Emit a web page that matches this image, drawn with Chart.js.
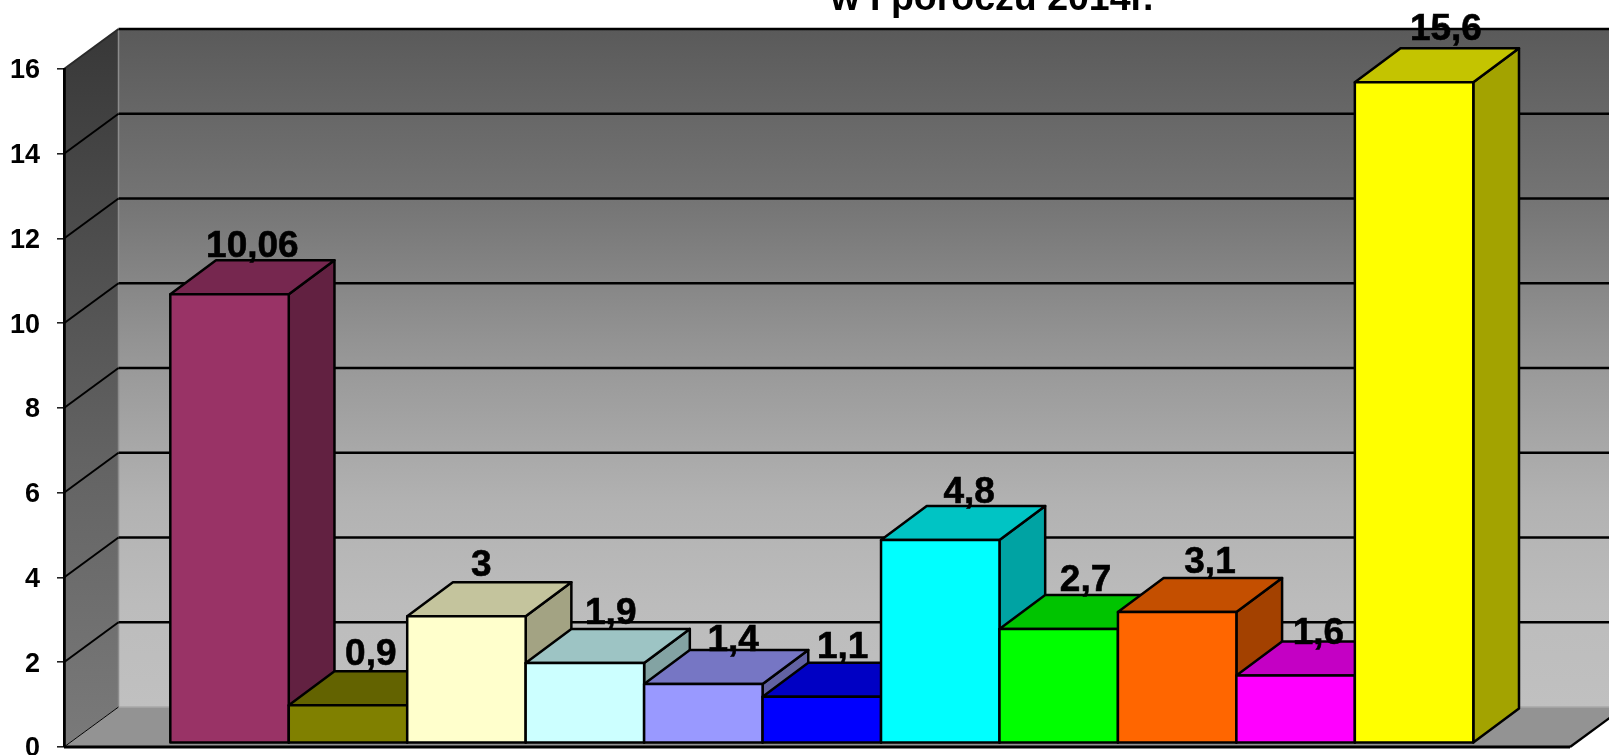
<!DOCTYPE html>
<html>
<head>
<meta charset="utf-8">
<style>
html,body{margin:0;padding:0;background:#fff;overflow:hidden;width:1609px;height:755px}
#wrap{position:absolute;left:0;top:-60px;width:1609px;height:855px}
canvas{display:block}
</style>
<script src="https://cdn.jsdelivr.net/npm/chart.js@4/dist/chart.umd.min.js"></script>
</head>
<body>
<div id="wrap"><canvas id="c" width="1609" height="855"></canvas></div>
<script>
const categories = [''];
const titleText = 'w I poroczu 2014r.';
const seriesValues = [10.6, 0.9, 3, 1.9, 1.4, 1.1, 4.8, 2.7, 3.1, 1.6, 15.6];
const valueLabels = ['10,06', '0,9', '3', '1,9', '1,4', '1,1', '4,8', '2,7', '3,1', '1,6', '15,6'];
const tickValues = [0, 2, 4, 6, 8, 10, 12, 14, 16];
const frontColors = ['#993366','#808000','#FFFFCC','#CCFFFF','#9999FF','#0000FF','#00FFFF','#00FF00','#FF6600','#FF00FF','#FFFF00'];
const labelNudgeX = [0, 0, -8, 3, 7, -2, 6, 4, 10, 0, 9];
const labelNudgeY = [2, -1, -1, 0, 6, 0, 2, 1, 0, 7, -3];

const FONT = '"Liberation Sans", Arial, sans-serif';
const WALL = {dx: 54.5, dy: 40};
const BAR = {ox: 4.8, oy: -3.6, dx: 45.7, dy: 34};

function shade(hex, f) {
  const n = parseInt(hex.slice(1), 16);
  const c = s => Math.round(((n >> s) & 255) * f);
  return `rgb(${c(16)},${c(8)},${c(0)})`;
}
function poly(ctx, pts, fill, stroke, lw) {
  ctx.beginPath();
  pts.forEach((p, i) => i ? ctx.lineTo(p[0], p[1]) : ctx.moveTo(p[0], p[1]));
  ctx.closePath();
  if (fill) { ctx.fillStyle = fill; ctx.fill(); }
  if (stroke) { ctx.strokeStyle = stroke; ctx.lineWidth = lw; ctx.stroke(); }
}
function line(ctx, x1, y1, x2, y2, col, lw) {
  ctx.beginPath(); ctx.moveTo(x1, y1); ctx.lineTo(x2, y2);
  ctx.strokeStyle = col; ctx.lineWidth = lw; ctx.stroke();
}

const scene3d = {
  id: 'scene3d',
  afterLayout(chart) {
    const t = chart.titleBlock;
    if (t) { t.left += 207; t.right += 207; t.top += 3.5; t.bottom += 3.5; }
  },
  beforeDraw(chart) {
    const {ctx, chartArea: a, scales: {y}} = chart;
    const y0 = y.getPixelForValue(0), yT = y.getPixelForValue(16);
    const bx = a.left + WALL.dx, bx2 = a.right + WALL.dx;
    ctx.save();
    let g = ctx.createLinearGradient(0, yT - WALL.dy, 0, y0 - WALL.dy);
    g.addColorStop(0, '#5a5a5a'); g.addColorStop(0.25, '#747474'); g.addColorStop(0.5, '#999999');
    g.addColorStop(0.7, '#b2b2b2'); g.addColorStop(0.85, '#bcbcbc'); g.addColorStop(1, '#c0c0c0');
    ctx.fillStyle = g;
    ctx.fillRect(bx, yT - WALL.dy, bx2 - bx, y0 - yT);
    g = ctx.createLinearGradient(0, yT - WALL.dy, 0, y0);
    g.addColorStop(0, '#383838'); g.addColorStop(0.6, '#636363'); g.addColorStop(1, '#7a7a7a');
    poly(ctx, [[a.left, y0], [a.left, yT], [bx, yT - WALL.dy], [bx, y0 - WALL.dy]], g);
    poly(ctx, [[a.left, y0], [bx, y0 - WALL.dy], [bx2, y0 - WALL.dy], [a.right, y0]], '#939393');
    line(ctx, bx, yT - WALL.dy, bx, y0 - WALL.dy, '#8c8c8c', 1.5);
    line(ctx, bx, y0 - WALL.dy, bx2, y0 - WALL.dy, '#a8a8a8', 1.5);
    tickValues.forEach(v => {
      const p = y.getPixelForValue(v);
      if (v > 0) line(ctx, bx, p - WALL.dy, bx2, p - WALL.dy, '#000', 2.4);
      line(ctx, a.left, p, bx, p - WALL.dy, v === 16 ? '#2a2a2a' : '#000', v === 0 ? 1 : 2);
    });
    line(ctx, a.right, y0, a.right + WALL.dx, y0 - WALL.dy, '#000', 2.4);
    line(ctx, a.left, y0, a.right, y0, '#000', 2.8);
    ctx.restore();
  },
  beforeDatasetDraw() { return false; },
  beforeDatasetsDraw(chart) {
    const ctx = chart.ctx;
    ctx.save();
    ctx.lineJoin = 'round';
    seriesValues.forEach((v, i) => {
      const el = chart.getDatasetMeta(i).data[0];
      const l = el.x - el.width / 2 + BAR.ox, r = el.x + el.width / 2 + BAR.ox;
      const t = el.y + BAR.oy, b = el.base + BAR.oy;
      const c = frontColors[i];
      poly(ctx, [[r, b], [r, t], [r + BAR.dx, t - BAR.dy], [r + BAR.dx, b - BAR.dy]], shade(c, 0.64), '#000', 2.5);
      poly(ctx, [[l, t], [l + BAR.dx, t - BAR.dy], [r + BAR.dx, t - BAR.dy], [r, t]], shade(c, 0.77), '#000', 2.5);
      poly(ctx, [[l, b], [l, t], [r, t], [r, b]], c, '#000', 2.5);
    });
    ctx.restore();
  },
  afterDatasetsDraw(chart) {
    const ctx = chart.ctx;
    ctx.save();
    ctx.font = 'bold 37px ' + FONT;
    ctx.fillStyle = '#000';
    ctx.strokeStyle = '#000';
    ctx.lineWidth = 0.6;
    ctx.textAlign = 'center';
    ctx.textBaseline = 'alphabetic';
    valueLabels.forEach((s, i) => {
      const el = chart.getDatasetMeta(i).data[0];
      const x = el.x + BAR.ox + BAR.dx / 2 + labelNudgeX[i];
      const yy = el.y + BAR.oy - BAR.dy - 5 + labelNudgeY[i];
      ctx.fillText(s, x, yy);
      ctx.strokeText(s, x, yy);
    });
    ctx.restore();
  }
};

new Chart(document.getElementById('c'), {
  type: 'bar',
  data: {
    labels: categories,
    datasets: seriesValues.map((v, i) => ({
      label: valueLabels[i],
      data: [v],
      backgroundColor: frontColors[i],
      borderColor: '#000',
      borderWidth: 2,
      categoryPercentage: 0.8652,
      barPercentage: 1
    }))
  },
  options: {
    responsive: false,
    animation: false,
    devicePixelRatio: 1,
    layout: {padding: {left: 0, right: 39, top: 0, bottom: 48}},
    plugins: {
      legend: {display: false},
      tooltip: {enabled: false},
      title: {
        display: true,
        text: titleText,
        color: '#000',
        font: {family: FONT, size: 37.5, weight: 'bold', lineHeight: 1.2},
        padding: {top: 34, bottom: 50}
      }
    },
    scales: {
      x: {display: false},
      y: {
        min: 0,
        max: 16,
        afterFit(s) { s.width = 64; },
        afterBuildTicks(s) { s.ticks = tickValues.map(v => ({value: v})); },
        border: {display: true, color: '#000', width: 2.8},
        grid: {display: true, drawOnChartArea: false, drawTicks: true, tickLength: 7, color: '#222', lineWidth: 1.6},
        ticks: {color: '#000', padding: 17, labelOffset: 2, font: {family: FONT, size: 27, weight: 'bold'}}
      }
    }
  },
  plugins: [scene3d]
});
</script>
</body>
</html>
